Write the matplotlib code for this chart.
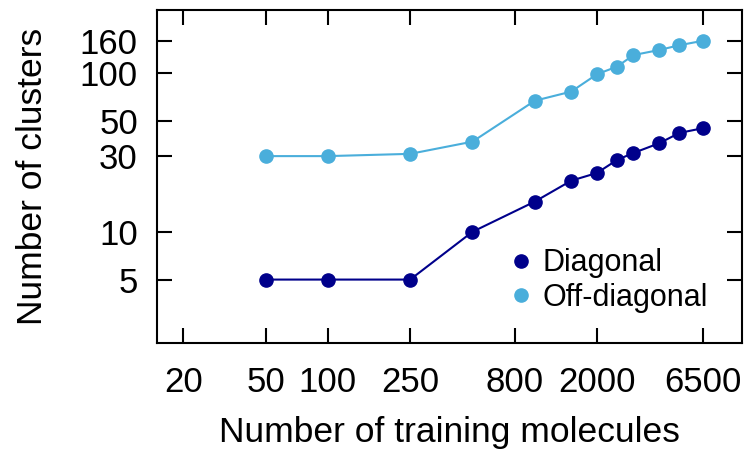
import matplotlib
matplotlib.use("Agg")
import matplotlib.pyplot as plt
from matplotlib.ticker import FixedLocator, FixedFormatter, NullLocator

plt.rcParams['font.family'] = ['Liberation Sans', 'DejaVu Sans']

n_train = [50, 100, 250, 500, 1000, 1500, 2000, 2500, 3000, 4000, 5000, 6500]
diagonal = [5, 5, 5, 10, 15.5, 21, 23.5, 28.4, 31.4, 36.2, 42, 45]
off_diagonal = [30, 30, 31, 37, 67, 76.5, 98.5, 110, 130, 140, 150, 160]

x_ticks = [20, 50, 100, 250, 800, 2000, 6500]
y_ticks = [5, 10, 30, 50, 100, 160]

c_diag = "#00008B"
c_off = "#4AAEDB"

fig = plt.figure(figsize=(7.52, 4.51), dpi=100)
ax = fig.add_axes([0.2092, 0.2401, 0.7771, 0.7377])

ax.plot(n_train, diagonal, '-o', color=c_diag, lw=1.5, ms=9.5, label='Diagonal')
ax.plot(n_train, off_diagonal, '-o', color=c_off, lw=1.5, ms=9.5, label='Off-diagonal')

ax.set_xscale('log')
ax.set_yscale('log')
ax.set_xlim(15, 10000)
ax.set_ylim(2, 250)

ax.xaxis.set_major_locator(FixedLocator(x_ticks))
ax.xaxis.set_major_formatter(FixedFormatter([str(t) for t in x_ticks]))
ax.xaxis.set_minor_locator(NullLocator())
ax.yaxis.set_major_locator(FixedLocator(y_ticks))
ax.yaxis.set_major_formatter(FixedFormatter([str(t) for t in y_ticks]))
ax.yaxis.set_minor_locator(NullLocator())

ax.tick_params(which='major', direction='in', length=10.5, width=1.5,
               top=True, right=True, labelsize=25, colors='black')
ax.tick_params(axis='y', pad=14)
ax.tick_params(axis='x', pad=17)
for s in ax.spines.values():
    s.set_linewidth(1.5)

ax.set_xlabel('Number of training molecules', fontsize=25.5, labelpad=12)
ax.set_ylabel('Number of clusters', fontsize=25.5, labelpad=22)

leg = ax.legend(loc='upper left', bbox_to_anchor=(0.575, 0.32), frameon=False,
                fontsize=22, handlelength=1.0, handletextpad=0.2,
                labelspacing=0.15, borderaxespad=0, numpoints=1)
for h in leg.legend_handles:
    h.set_linestyle('None')

fig.savefig('out.png', dpi=100)
